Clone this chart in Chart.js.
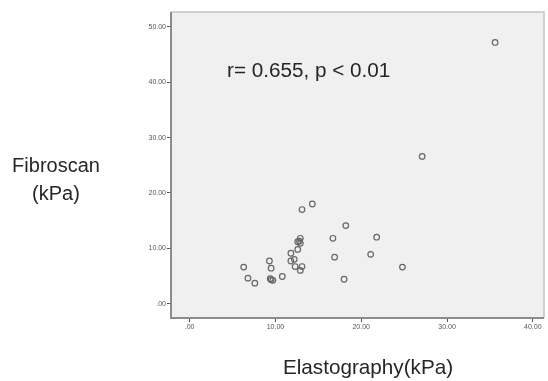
<!DOCTYPE html>
<html>
<head>
<meta charset="utf-8">
<script src="https://cdn.jsdelivr.net/npm/chart.js@4"></script>
<style>
  html, body { margin: 0; padding: 0; background: #fff; }
  #wrap { width: 548px; height: 381px; position: relative; }
</style>
</head>
<body>
<div id="wrap"><canvas id="scatterChart"></canvas></div>
<script>
// Elastography (x) vs Fibroscan (y), kPa
var elastography = [
  6.3, 6.8, 7.6, 9.3, 9.5, 9.4, 9.5, 9.7, 10.8, 11.8,
  11.8, 12.2, 12.3, 12.6, 12.6, 12.8, 12.9, 12.9, 12.9, 13.1,
  16.7, 16.9, 18.2, 18.0, 21.1, 21.8, 24.8, 27.1, 13.1, 14.3,
  35.6
];
var fibroscan = [
  6.6, 4.6, 3.7, 7.7, 6.4, 4.5, 4.3, 4.2, 4.9, 9.1,
  7.7, 8.0, 6.7, 9.8, 11.2, 11.3, 11.8, 10.9, 6.0, 6.7,
  11.8, 8.4, 14.1, 4.4, 8.9, 12.0, 6.6, 26.6, 17.0, 18.0,
  47.2
];
var xTicks = [0, 10, 20, 30, 40];
var yTicks = [0, 10, 20, 30, 40, 50];
var annotation = 'r= 0.655, p < 0.01';
var xTitle = 'Elastography(kPa)';
var yTitle = ['Fibroscan', '(kPa)'];

function fmt(v) {
  return v === 0 ? '.00' : v.toFixed(2);
}

// plot frame + texts
var decorPlugin = {
  id: 'decor',
  beforeDraw: function (chart) {
    var c = chart.ctx, a = chart.chartArea;
    c.save();
    c.fillStyle = '#f0f0f0';
    c.fillRect(a.left, a.top, a.right - a.left, a.bottom - a.top);
    c.restore();
  },
  afterDraw: function (chart) {
    var c = chart.ctx, a = chart.chartArea;
    c.save();
    c.strokeStyle = '#c4c4c4';
    c.lineWidth = 1.5;
    c.beginPath();
    c.moveTo(a.left, a.top);
    c.lineTo(a.right, a.top);
    c.lineTo(a.right, a.bottom);
    c.stroke();
    c.strokeStyle = '#8c8c8c';
    c.lineWidth = 2;
    c.beginPath();
    c.moveTo(a.left, a.top);
    c.lineTo(a.left, a.bottom);
    c.lineTo(a.right, a.bottom);
    c.stroke();

    c.fillStyle = '#262626';
    c.textBaseline = 'alphabetic';
    c.textAlign = 'left';
    c.font = '20.7px "Liberation Sans", Arial, sans-serif';
    c.fillText(annotation, 227, 77);
    c.textAlign = 'center';
    c.fillText(xTitle, 368, 374);
    c.font = '20px "Liberation Sans", Arial, sans-serif';
    c.fillText(yTitle[0], 56, 172);
    c.fillText(yTitle[1], 56, 200);
    c.restore();
  }
};

document.addEventListener('DOMContentLoaded', function () {
  var canvas = document.getElementById('scatterChart');
  var points = elastography.map(function (x, i) { return { x: x, y: fibroscan[i] }; });

  new Chart(canvas.getContext('2d'), {
    type: 'scatter',
    data: {
      datasets: [{
        data: points,
        pointRadius: 2.8,
        pointHoverRadius: 2.8,
        pointBorderWidth: 1.2,
        pointBorderColor: '#666',
        pointBackgroundColor: 'rgba(0,0,0,0)'
      }]
    },
    options: {
      responsive: true,
      maintainAspectRatio: false,
      animation: false,
      events: [],
      layout: { padding: { top: 12, right: 4, left: 0, bottom: 0 } },
      plugins: {
        legend: { display: false },
        tooltip: { enabled: false }
      },
      scales: {
        x: {
          type: 'linear',
          min: -2.17,
          max: 41.3,
          afterBuildTicks: function (s) { s.ticks = xTicks.map(function (v) { return { value: v }; }); },
          afterFit: function (s) { s.height = 63; },
          border: { display: false },
          grid: { drawOnChartArea: false, drawTicks: true, tickLength: 4, color: '#555', lineWidth: 1 },
          ticks: {
            padding: 1,
            color: '#555',
            font: { size: 7, family: 'Liberation Sans, Arial, sans-serif' },
            maxRotation: 0,
            callback: function (v) { return fmt(v); }
          }
        },
        y: {
          type: 'linear',
          min: -2.6,
          max: 52.7,
          afterBuildTicks: function (s) { s.ticks = yTicks.map(function (v) { return { value: v }; }); },
          afterFit: function (s) { s.width = 171; },
          border: { display: false },
          grid: { drawOnChartArea: false, drawTicks: true, tickLength: 4, color: '#555', lineWidth: 1 },
          ticks: {
            padding: 1,
            color: '#555',
            font: { size: 7, family: 'Liberation Sans, Arial, sans-serif' },
            callback: function (v) { return fmt(v); }
          }
        }
      }
    },
    plugins: [decorPlugin]
  });
});
</script>
</body>
</html>
